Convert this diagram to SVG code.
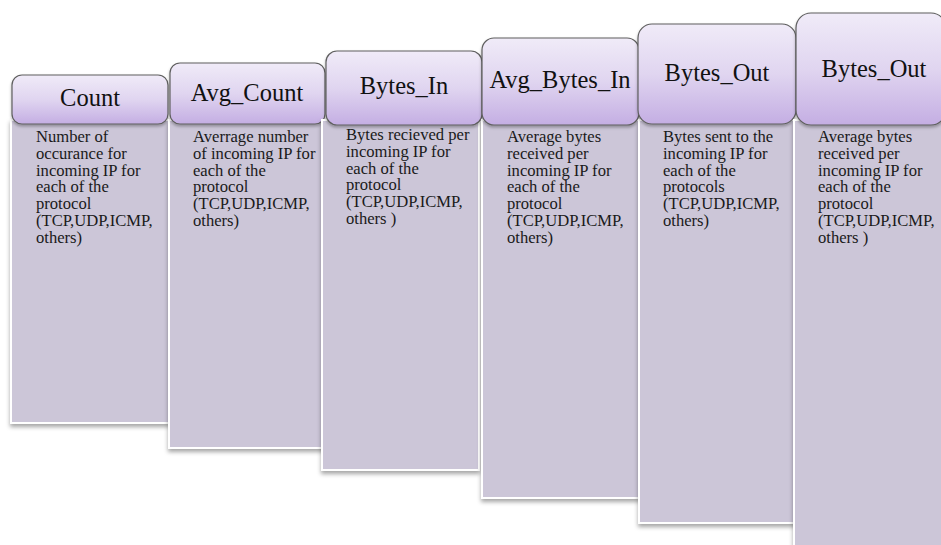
<svg xmlns="http://www.w3.org/2000/svg" width="941" height="545" viewBox="0 0 941 545">
  <defs>
    <linearGradient id="hdrFill" x1="0" y1="0" x2="0" y2="1">
      <stop offset="0" stop-color="#f0ebf8"/>
      <stop offset="0.5" stop-color="#e0d5f0"/>
      <stop offset="1" stop-color="#c4aee3"/>
    </linearGradient>
    <filter id="bodyShadow" x="-10%" y="-10%" width="120%" height="120%">
      <feDropShadow dx="0" dy="3" stdDeviation="2" flood-color="#000" flood-opacity="0.35"/>
    </filter>
    <filter id="hdrShadow" x="-10%" y="-20%" width="120%" height="150%">
      <feDropShadow dx="0" dy="2" stdDeviation="1.5" flood-color="#000" flood-opacity="0.3"/>
    </filter>
  </defs>
  <style>
    .body { fill: #ccc6d8; stroke: #ffffff; stroke-width: 2; filter: url(#bodyShadow); }
    .hdr { fill: url(#hdrFill); stroke: #5f5f5f; stroke-width: 1.2; filter: url(#hdrShadow); }
    .title { font-family: "Liberation Serif", "Times New Roman", serif; font-size: 24.5px; fill: #111; text-anchor: middle; }
    .desc { font-family: "Liberation Serif", "Times New Roman", serif; font-size: 16.6px; fill: #1a1a1a; }
  </style>
  <rect width="941" height="545" fill="#ffffff"/>

  <g id="node-count">
    <rect class="body" x="11" y="120" width="158" height="303"/>
    <rect class="hdr" x="12" y="75" width="156" height="49" rx="10"/>
    <text class="title" x="90" y="106">Count</text>
    <text class="desc" x="36" y="142">
      <tspan x="36" dy="0">Number of</tspan>
      <tspan x="36" dy="16.8">occurance for</tspan>
      <tspan x="36" dy="16.8">incoming IP for</tspan>
      <tspan x="36" dy="16.8">each of the</tspan>
      <tspan x="36" dy="16.8">protocol</tspan>
      <tspan x="36" dy="16.8">(TCP,UDP,ICMP,</tspan>
      <tspan x="36" dy="16.8">others)</tspan>
    </text>
  </g>

  <g id="node-avg-count">
    <rect class="body" x="169" y="120" width="157" height="328"/>
    <rect class="hdr" x="170" y="63" width="155" height="61" rx="10"/>
    <text class="title" x="247" y="101">Avg_Count</text>
    <text class="desc" x="193" y="142">
      <tspan x="193" dy="0">Averrage number</tspan>
      <tspan x="193" dy="16.8">of incoming IP for</tspan>
      <tspan x="193" dy="16.8">each of the</tspan>
      <tspan x="193" dy="16.8">protocol</tspan>
      <tspan x="193" dy="16.8">(TCP,UDP,ICMP,</tspan>
      <tspan x="193" dy="16.8">others)</tspan>
    </text>
  </g>

  <g id="node-bytes-in">
    <rect class="body" x="322" y="120" width="157" height="350"/>
    <rect class="hdr" x="326" y="51" width="156" height="74" rx="11"/>
    <text class="title" x="404" y="94">Bytes_In</text>
    <text class="desc" x="346" y="140">
      <tspan x="346" dy="0">Bytes recieved per</tspan>
      <tspan x="346" dy="16.8">incoming IP for</tspan>
      <tspan x="346" dy="16.8">each of the</tspan>
      <tspan x="346" dy="16.8">protocol</tspan>
      <tspan x="346" dy="16.8">(TCP,UDP,ICMP,</tspan>
      <tspan x="346" dy="16.8">others )</tspan>
    </text>
  </g>

  <g id="node-avg-bytes-in">
    <rect class="body" x="482" y="120" width="157" height="378"/>
    <rect class="hdr" x="482" y="38" width="157" height="87" rx="12"/>
    <text class="title" x="560" y="88">Avg_Bytes_In</text>
    <text class="desc" x="507" y="142">
      <tspan x="507" dy="0">Average bytes</tspan>
      <tspan x="507" dy="16.8">received per</tspan>
      <tspan x="507" dy="16.8">incoming IP for</tspan>
      <tspan x="507" dy="16.8">each of the</tspan>
      <tspan x="507" dy="16.8">protocol</tspan>
      <tspan x="507" dy="16.8">(TCP,UDP,ICMP,</tspan>
      <tspan x="507" dy="16.8">others)</tspan>
    </text>
  </g>

  <g id="node-bytes-out">
    <rect class="body" x="639" y="120" width="156" height="403"/>
    <rect class="hdr" x="638" y="24" width="158" height="100" rx="14"/>
    <text class="title" x="717" y="81">Bytes_Out</text>
    <text class="desc" x="663" y="142">
      <tspan x="663" dy="0">Bytes sent to the</tspan>
      <tspan x="663" dy="16.8">incoming IP for</tspan>
      <tspan x="663" dy="16.8">each of the</tspan>
      <tspan x="663" dy="16.8">protocols</tspan>
      <tspan x="663" dy="16.8">(TCP,UDP,ICMP,</tspan>
      <tspan x="663" dy="16.8">others)</tspan>
    </text>
  </g>

  <g id="node-bytes-out-avg">
    <rect class="body" x="794" y="120" width="160" height="440"/>
    <rect class="hdr" x="796" y="13" width="150" height="112" rx="15"/>
    <text class="title" x="874" y="77">Bytes_Out</text>
    <text class="desc" x="818" y="142">
      <tspan x="818" dy="0">Average bytes</tspan>
      <tspan x="818" dy="16.8">received per</tspan>
      <tspan x="818" dy="16.8">incoming IP for</tspan>
      <tspan x="818" dy="16.8">each of the</tspan>
      <tspan x="818" dy="16.8">protocol</tspan>
      <tspan x="818" dy="16.8">(TCP,UDP,ICMP,</tspan>
      <tspan x="818" dy="16.8">others )</tspan>
    </text>
  </g>

  <g id="connectors"></g>
</svg>
